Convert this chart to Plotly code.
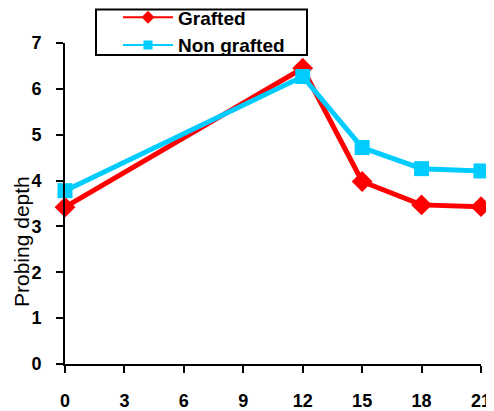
import plotly.graph_objects as go

days = [0, 12, 15, 18, 21]
grafted = [3.42, 6.45, 3.98, 3.47, 3.43]
non_grafted = [3.78, 6.27, 4.72, 4.26, 4.21]
x_ticks = [0, 3, 6, 9, 12, 15, 18, 21]
y_ticks = [0, 1, 2, 3, 4, 5, 6, 7]

RED = "#FF0000"
CYAN = "#00CCFF"

# page body has an 8px default margin; compensate so plot area lands where the reference has it
OFF = 8
PL, PR, PT, PB = 65, 481, 43, 364   # plot area in window pixels
W, H = 494 - OFF, 411 - OFF

def px_x(px):
    return (px - PL) / (PR - PL)

def px_y(py):
    return (PB - py) / (PB - PT)

fig = go.Figure()
fig.add_trace(go.Scatter(
    x=days, y=grafted, name="Grafted", mode="lines+markers", showlegend=False,
    line=dict(color=RED, width=5),
    marker=dict(symbol="diamond", size=16, color=RED),
))
fig.add_trace(go.Scatter(
    x=days, y=non_grafted, name="Non grafted", mode="lines+markers", showlegend=False,
    line=dict(color=CYAN, width=5),
    marker=dict(symbol="square", size=15, color=CYAN),
))
# legend-only entries (thin line, small markers as in reference legend)
fig.add_trace(go.Scatter(
    x=[None], y=[None], name="Grafted", mode="lines+markers",
    line=dict(color=RED, width=2),
    marker=dict(symbol="diamond", size=10, color=RED),
))
fig.add_trace(go.Scatter(
    x=[None], y=[None], name="Non grafted", mode="lines+markers",
    line=dict(color=CYAN, width=2),
    marker=dict(symbol="square", size=9, color=CYAN),
))

fig.update_layout(
    width=W, height=H,
    margin=dict(l=PL - OFF, r=W + OFF - PR, t=PT - OFF, b=H + OFF - PB, autoexpand=False),
    paper_bgcolor="white", plot_bgcolor="white",
    font=dict(family="Arial, Liberation Sans, sans-serif", color="black"),
    showlegend=True,
    legend=dict(
        x=px_x(118), y=px_y(31.5), xanchor="left", yanchor="middle",
        borderwidth=0, bgcolor="rgba(0,0,0,0)",
        font=dict(size=19, family="Arial, Liberation Sans, sans-serif", weight="bold"),
        tracegroupgap=0, itemwidth=50,
    ),
    shapes=[dict(
        type="rect", xref="paper", yref="paper",
        x0=px_x(96), x1=px_x(307), y0=px_y(55), y1=px_y(9.5),
        line=dict(color="black", width=2), fillcolor="white", layer="above",
    )],
    xaxis=dict(
        range=[0, 21], tickvals=x_ticks, showgrid=False, zeroline=False,
        showline=True, linecolor="black", linewidth=2,
        ticks="outside", ticklen=7, tickwidth=1.5, tickcolor="black",
        tickfont=dict(size=18, weight="bold"), ticklabelstandoff=12,
    ),
    yaxis=dict(
        range=[0, 7], tickvals=y_ticks, showgrid=False, zeroline=False,
        showline=True, linecolor="black", linewidth=2,
        ticks="outside", ticklen=7, tickwidth=1.5, tickcolor="black",
        tickfont=dict(size=18, weight="bold"), ticklabelstandoff=11,
    ),
    annotations=[dict(
        text="Probing depth", xref="paper", yref="paper",
        x=px_x(21), y=px_y(242), textangle=-90,
        showarrow=False, font=dict(size=21), xanchor="center", yanchor="middle",
    )],
)
for tr in fig.data:
    tr.cliponaxis = False

fig.write_html("out.html")
